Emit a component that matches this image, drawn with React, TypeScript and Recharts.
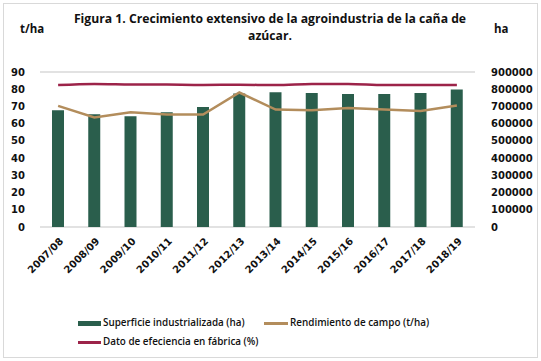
import React from 'react';
import { ComposedChart, Bar, Line, XAxis, YAxis, CartesianGrid } from 'recharts';

const zafras = ['2007/08', '2008/09', '2009/10', '2010/11', '2011/12', '2012/13', '2013/14', '2014/15', '2015/16', '2016/17', '2017/18', '2018/19'];
const superficie = [678000, 655000, 643000, 666000, 697000, 775000, 782000, 778000, 772000, 772000, 778000, 798000];
const rendimiento = [70.3, 63.6, 66.6, 65.3, 65.3, 78.1, 68.2, 67.8, 69.1, 68.2, 67.4, 70.5];
const eficiencia = [82.4, 83.1, 82.8, 82.7, 82.5, 82.6, 82.4, 83.0, 83.1, 82.5, 82.5, 82.5];
const leftTicks = [0, 10, 20, 30, 40, 50, 60, 70, 80, 90];
const rightTicks = [0, 100000, 200000, 300000, 400000, 500000, 600000, 700000, 800000, 900000];

const data = zafras.map((z, i) => ({
  zafra: z,
  superficie: superficie[i],
  rendimiento: rendimiento[i],
  eficiencia: eficiencia[i],
}));

const tickFont = '"DejaVu Sans", sans-serif';

function XTick(props: any) {
  const { x, y, payload } = props;
  return (
    <text
      x={x + 3}
      y={y + 4}
      transform={`rotate(-45, ${x + 3}, ${y + 4})`}
      textAnchor="end"
      fontFamily={tickFont}
      fontWeight={700}
      fontSize={10}
      fill="#111"
      dy={4}
    >
      {payload.value}
    </text>
  );
}

export default function App() {
  const legendText: React.CSSProperties = {
    fontFamily: '"Open Sans", sans-serif',
    fontWeight: 600,
    fontSize: 9.9,
    color: '#111',
    position: 'absolute',
    whiteSpace: 'nowrap',
  };
  return (
    <div style={{ position: 'absolute', left: 0, top: 0, width: 541, height: 361, background: '#fff' }}>
      <div style={{ position: 'absolute', left: 3, top: 3, width: 533, height: 353, border: '1px solid #d9d9d9' }} />
      <div
        style={{
          position: 'absolute',
          left: 40,
          top: 10,
          width: 460,
          textAlign: 'center',
          fontFamily: '"Open Sans", sans-serif',
          fontWeight: 700,
          fontSize: 12.2,
          lineHeight: '17px',
          color: '#111',
        }}
      >
        Figura 1. Crecimiento extensivo de la agroindustria de la caña de
        <br />
        azúcar.
      </div>
      <div style={{ position: 'absolute', left: 20, top: 21, fontFamily: '"Open Sans", sans-serif', fontWeight: 700, fontSize: 11.5, color: '#111' }}>t/ha</div>
      <div style={{ position: 'absolute', left: 494, top: 21, fontFamily: '"Open Sans", sans-serif', fontWeight: 700, fontSize: 11.5, color: '#111' }}>ha</div>

      <div style={{ position: 'absolute', left: 0, top: 0 }}>
        <ComposedChart width={541} height={361} data={data} margin={{ top: 72, right: 0, bottom: 74, left: 0 }}>
          <CartesianGrid vertical={false} stroke="#d9d9d9" strokeWidth={1.5} />
          <XAxis dataKey="zafra" axisLine={false} tickLine={false} tick={<XTick />} interval={0} height={60} />
          <YAxis
            yAxisId="left"
            domain={[0, 90]}
            ticks={leftTicks}
            axisLine={false}
            tickLine={false}
            width={40}
            tick={{ fontFamily: tickFont, fontWeight: 700, fontSize: 10, fill: '#111' }}
            tickMargin={9}
          />
          <YAxis
            yAxisId="right"
            orientation="right"
            domain={[0, 900000]}
            ticks={rightTicks}
            axisLine={false}
            tickLine={false}
            width={66}
            tick={{ fontFamily: tickFont, fontWeight: 700, fontSize: 10, fill: '#111', textAnchor: 'start' }}
            tickMargin={10}
          />
          <Bar yAxisId="right" dataKey="superficie" fill="#2a5e4c" barSize={12} isAnimationActive={false} />
          <Line yAxisId="left" dataKey="rendimiento" stroke="#b38d5c" strokeWidth={2.5} dot={false} type="linear" isAnimationActive={false} />
          <Line yAxisId="left" dataKey="eficiencia" stroke="#9c2349" strokeWidth={2.5} dot={false} type="monotone" isAnimationActive={false} />
        </ComposedChart>
      </div>

      <div style={{ position: 'absolute', left: 78, top: 321, width: 23, height: 5, background: '#2a5e4c' }} />
      <div style={{ ...legendText, left: 103, top: 315 }}>Superficie industrializada (ha)</div>
      <div style={{ position: 'absolute', left: 264, top: 322, width: 24, height: 3, background: '#b38d5c' }} />
      <div style={{ ...legendText, left: 290, top: 315 }}>Rendimiento de campo (t/ha)</div>
      <div style={{ position: 'absolute', left: 78, top: 341, width: 23, height: 3, background: '#9c2349' }} />
      <div style={{ ...legendText, left: 103, top: 334 }}>Dato de efeciencia en fábrica (%)</div>
    </div>
  );
}
